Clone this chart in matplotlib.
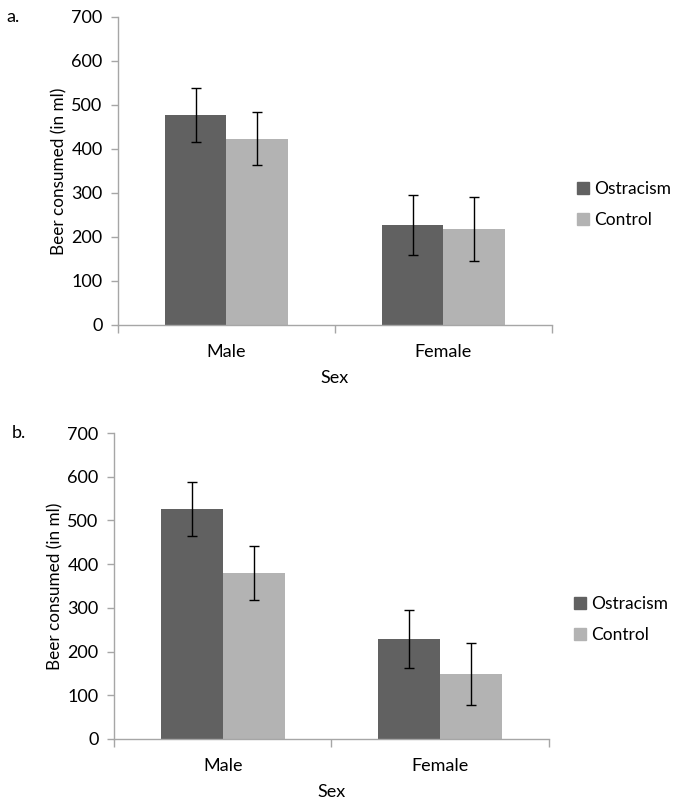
import numpy as np
import matplotlib.pyplot as plt
from matplotlib.patches import Patch

plt.rcParams['font.family'] = ['Lato', 'DejaVu Sans']

categories = ['Male', 'Female']
series = ['Ostracism', 'Control']
colors = ['#616161', '#b3b3b3']

# panel a
a_ostracism = [477, 227]
a_control = [423, 218]
a_ostracism_err = [62, 69]
a_control_err = [60, 73]

# panel b
b_ostracism = [527, 229]
b_control = [379, 149]
b_ostracism_err = [62, 66]
b_control_err = [62, 71]

yticks = [0, 100, 200, 300, 400, 500, 600, 700]


def draw_panel(ax, ost, ctl, ost_err, ctl_err, letter, letter_x):
    x = np.arange(len(categories))
    w = 0.284
    ax.bar(x - w / 2, ost, w, color=colors[0], zorder=2)
    ax.bar(x + w / 2, ctl, w, color=colors[1], zorder=2)
    ax.errorbar(x - w / 2, ost, yerr=ost_err, fmt='none', ecolor='black',
                elinewidth=1, capsize=3.5, capthick=1, zorder=3)
    ax.errorbar(x + w / 2, ctl, yerr=ctl_err, fmt='none', ecolor='black',
                elinewidth=1, capsize=3.5, capthick=1, zorder=3)
    ax.set_xlim(-0.5, 1.5)
    ax.set_ylim(0, 700)
    ax.set_yticks(yticks)
    ax.set_xticks(x)
    ax.set_xticklabels(categories)
    ax.set_xticks([-0.5, 0.5, 1.5], minor=True)
    ax.tick_params(axis='x', which='major', length=0, pad=14, labelsize=13)
    ax.tick_params(axis='x', which='minor', length=6, color='#a6a6a6', width=1)
    ax.tick_params(axis='y', length=5, color='#a6a6a6', width=1, pad=6,
                   labelsize=13)
    for s in ['top', 'right']:
        ax.spines[s].set_visible(False)
    for s in ['left', 'bottom']:
        ax.spines[s].set_color('#a6a6a6')
        ax.spines[s].set_linewidth(1)
    ax.set_ylabel('Beer consumed (in ml)', fontsize=12.3, labelpad=3)
    ax.set_xlabel('Sex', fontsize=13, labelpad=7)
    handles = [Patch(color=colors[0], label=series[0]),
               Patch(color=colors[1], label=series[1])]
    ax.legend(handles=handles, loc='center left', bbox_to_anchor=(1.058, 0.39),
              frameon=False, fontsize=12.5, handlelength=0.7, handleheight=0.7,
              handletextpad=0.3, labelspacing=0.85, borderpad=0,
              borderaxespad=0)
    ax.text(letter_x, 1.0, letter, transform=ax.transAxes, fontsize=13,
            va='center', ha='left')


fig = plt.figure(figsize=(6.77, 8.08), dpi=100)
ax1 = fig.add_axes([0.1743, 0.5978, 0.641, 0.3812])
ax2 = fig.add_axes([0.1684, 0.0854, 0.6425, 0.3787])
draw_panel(ax1, a_ostracism, a_control, a_ostracism_err, a_control_err,
           'a.', -0.258)
draw_panel(ax2, b_ostracism, b_control, b_ostracism_err, b_control_err,
           'b.', -0.236)

fig.savefig('out.png', dpi=100)
